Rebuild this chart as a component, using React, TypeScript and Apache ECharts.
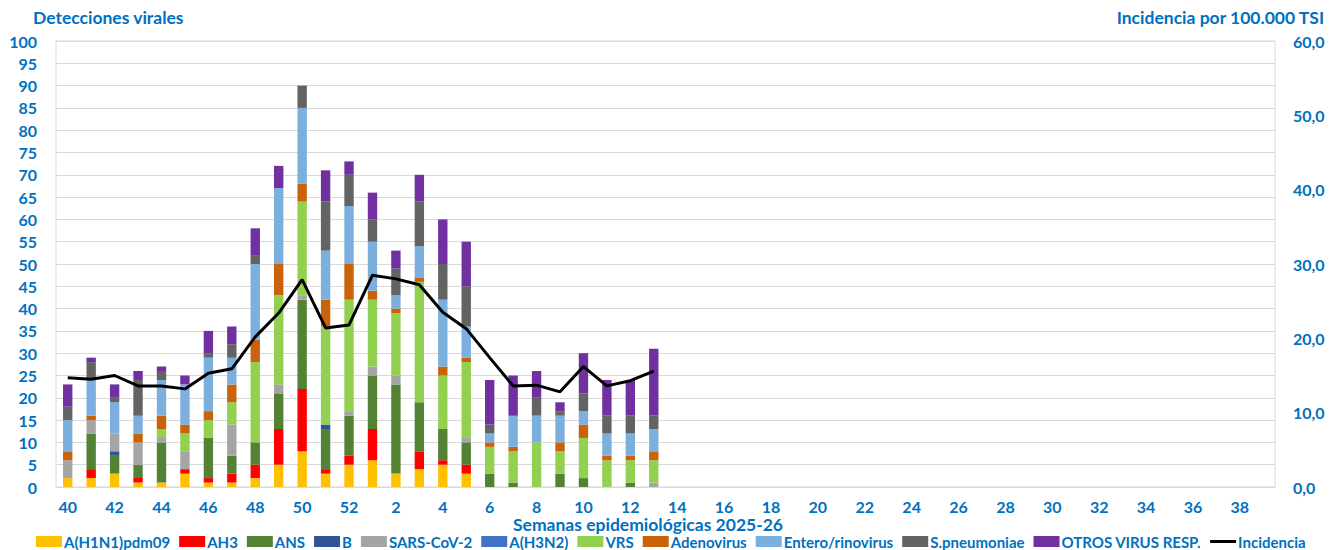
import React, { useEffect, useRef } from "react";
import * as echarts from "echarts";

const weeks: string[] = [
  ...Array.from({ length: 13 }, (_, i) => String(40 + i)),
  ...Array.from({ length: 39 }, (_, i) => String(1 + i)),
];

const h1n1 = [2, 2, 3, 1, 1, 3, 1, 1, 2, 5, 8, 3, 5, 6, 3, 4, 5, 3, 0, 0, 0, 0, 0, 0, 0, 0];
const ah3 = [0, 2, 0, 1, 0, 1, 1, 2, 3, 8, 14, 1, 2, 7, 0, 4, 1, 2, 0, 0, 0, 0, 0, 0, 0, 0];
const ans = [0, 8, 4, 3, 9, 0, 9, 4, 5, 8, 20, 9, 9, 12, 20, 11, 7, 5, 3, 1, 0, 3, 2, 0, 1, 0];
const fluB = [0, 0, 1, 0, 0, 0, 0, 0, 0, 0, 0, 1, 0, 0, 0, 0, 0, 0, 0, 0, 0, 0, 0, 0, 0, 0];
const sars = [4, 3, 4, 5, 1, 4, 0, 7, 0, 2, 1, 0, 1, 2, 2, 0, 0, 1, 0, 0, 0, 0, 0, 0, 0, 1];
const h3n2 = [0, 0, 0, 0, 0, 0, 0, 0, 0, 0, 0, 0, 0, 0, 0, 0, 0, 0, 0, 0, 0, 0, 0, 0, 0, 0];
const vrs = [0, 0, 0, 0, 2, 4, 4, 5, 18, 20, 21, 22, 25, 15, 14, 27, 12, 17, 6, 7, 10, 5, 9, 6, 5, 5];
const adeno = [2, 1, 0, 2, 3, 2, 2, 4, 5, 7, 4, 6, 8, 2, 1, 1, 2, 1, 1, 1, 0, 2, 3, 1, 1, 2];
const entero = [7, 8, 7, 4, 8, 9, 12, 6, 17, 17, 17, 11, 13, 11, 3, 7, 15, 7, 2, 7, 6, 6, 3, 5, 5, 5];
const spneu = [3, 4, 1, 8, 2, 0, 1, 3, 2, 0, 5, 11, 7, 5, 6, 10, 8, 9, 2, 0, 4, 1, 4, 4, 4, 3];
const otros = [5, 1, 3, 2, 1, 2, 5, 4, 6, 5, 0, 7, 3, 6, 4, 6, 10, 10, 10, 9, 6, 2, 9, 8, 8, 15];
const incidencia = [
  14.7, 14.5, 15.0, 13.6, 13.6, 13.2, 15.3, 15.9, 20.2, 23.4, 27.9, 21.4, 21.8, 28.5, 28.0, 27.2,
  23.5, 21.3, 17.4, 13.6, 13.7, 12.8, 16.2, 13.6, 14.3, 15.6,
];

const barSeries: { name: string; data: number[]; color: string }[] = [
  { name: "A(H1N1)pdm09", data: h1n1, color: "#FFC000" },
  { name: "AH3", data: ah3, color: "#FF0000" },
  { name: "ANS", data: ans, color: "#548235" },
  { name: "B", data: fluB, color: "#2F5597" },
  { name: "SARS-CoV-2", data: sars, color: "#A5A5A5" },
  { name: "A(H3N2)", data: h3n2, color: "#4472C4" },
  { name: "VRS", data: vrs, color: "#92D050" },
  { name: "Adenovirus", data: adeno, color: "#C96209" },
  { name: "Entero/rinovirus", data: entero, color: "#7BAFDE" },
  { name: "S.pneumoniae", data: spneu, color: "#636363" },
  { name: "OTROS VIRUS RESP.", data: otros, color: "#7030A0" },
];

const BLUE = "#0070C0";
const FONT = "Lato, 'Liberation Sans', sans-serif";

export default function App() {
  const ref = useRef<HTMLDivElement>(null);
  useEffect(() => {
    if (!ref.current) return;
    const chart = echarts.init(ref.current, undefined, { renderer: "svg" });
    chart.setOption({
      animation: false,
      textStyle: { fontFamily: FONT },
      grid: {
        left: 56,
        right: 54,
        top: 41,
        bottom: 63,
        show: true,
        borderColor: "#D9D9D9",
        borderWidth: 1,
      },
      legend: {
        left: 36,
        top: 534,
        itemWidth: 26,
        itemHeight: 11,
        itemGap: 9,
        padding: 0,
        symbolKeepAspect: true,
        textStyle: {
          color: BLUE,
          fontWeight: "bold",
          fontSize: 15,
          lineHeight: 15,
          fontFamily: FONT,
          padding: [0, 0, 0, -3],
        },
        data: [
          ...barSeries.map((s) => ({ name: s.name, icon: "rect" })),
          { name: "Incidencia", icon: "path://M0,0 L26,0 L26,3 L0,3 Z", itemStyle: { color: "#000000" } },
        ],
      },
      xAxis: {
        type: "category",
        data: weeks,
        axisLine: { lineStyle: { color: "#D9D9D9" } },
        axisTick: { show: false },
        axisLabel: {
          interval: 1,
          color: BLUE,
          fontWeight: "bold",
          fontSize: 16,
          fontFamily: FONT,
          margin: 11,
        },
        splitLine: { show: false },
      },
      yAxis: [
        {
          type: "value",
          min: 0,
          max: 100,
          interval: 5,
          axisLine: { show: false },
          axisTick: { show: false },
          axisLabel: { color: BLUE, fontWeight: "bold", fontSize: 16, fontFamily: FONT, margin: 19 },
          splitLine: { lineStyle: { color: "#D9D9D9" } },
        },
        {
          type: "value",
          min: 0,
          max: 60,
          interval: 10,
          axisLine: { show: false },
          axisTick: { show: false },
          axisLabel: {
            color: BLUE,
            fontWeight: "bold",
            fontSize: 16,
            fontFamily: FONT,
            margin: 18,
            formatter: (v: number) => v.toFixed(1).replace(".", ","),
          },
          splitLine: { show: false },
        },
      ],
      graphic: [
        {
          type: "text",
          left: 33,
          top: 8,
          style: { text: "Detecciones virales", fill: BLUE, font: `bold 17.5px ${FONT}` },
        },
        {
          type: "text",
          right: 4,
          top: 8,
          style: { text: "Incidencia por 100.000 TSI", fill: BLUE, font: `bold 17.5px ${FONT}` },
        },
        {
          type: "text",
          x: 648,
          y: 524,
          style: {
            text: "Semanas epidemiológicas 2025-26",
            fill: BLUE,
            font: `bold 17.5px ${FONT}`,
            align: "center",
            verticalAlign: "middle",
          },
        },
      ],
      series: [
        ...barSeries.map((s) => ({
          name: s.name,
          type: "bar",
          stack: "total",
          barWidth: "40%",
          data: s.data,
          itemStyle: { color: s.color },
        })),
        {
          name: "Incidencia",
          type: "line",
          yAxisIndex: 1,
          data: incidencia,
          symbol: "none",
          lineStyle: { color: "#000000", width: 3 },
          itemStyle: { color: "#000000" },
          z: 5,
        },
      ],
    });
    return () => chart.dispose();
  }, []);
  return <div ref={ref} style={{ width: 1329, height: 550, position: "absolute", left: 0, top: 0 }} />;
}
